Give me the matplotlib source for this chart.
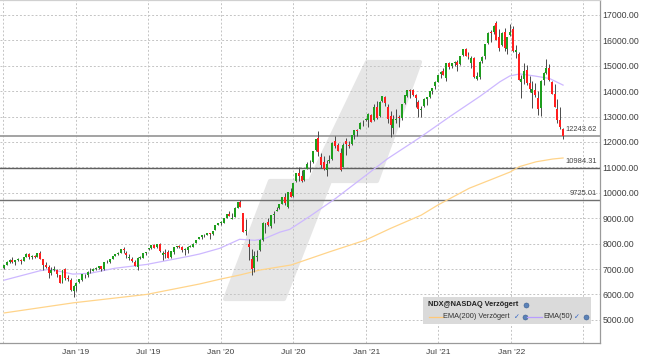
import matplotlib
matplotlib.use("Agg")
import matplotlib.pyplot as plt
import matplotlib.dates as mdates
import pandas as pd
from matplotlib.patches import Polygon, Rectangle
from matplotlib.lines import Line2D

plt.rcParams['font.family'] = ['Liberation Sans', 'DejaVu Sans']

# weekly NDX candles, Jul 2018 - May 2022
open_ = [7040, 7150, 7280, 7340, 7270, 7360, 7370, 7310, 7470, 7600, 7460, 7510, 7480, 7640, 7390, 7150, 7080, 6850, 6980, 6980, 6780, 6470, 7000, 6640, 6580, 6150,
         6330, 6470, 6560, 6790, 6780, 6920, 6940, 7000, 7050, 7110, 6990, 7260, 7280, 7400, 7530, 7590, 7630, 7790, 7640, 7450, 7400, 7290, 7080, 7440, 7450, 7620,
         7780, 7810, 7950, 7870, 8000, 7550, 7620, 7650, 7490, 7670, 7860, 7890, 7860, 7760, 7730, 7880, 7880, 8020, 8180, 8250, 8330, 8340, 8400, 8390, 8530, 8740,
         8800, 8810, 9020, 9160, 8970, 9060, 9410, 9640, 9200, 8480, 8000, 7400, 7050, 7480, 7740, 8130, 8780, 8860, 8680, 9130, 9280, 9400, 9570, 9850, 9430, 10040,
         9880, 10480, 10790, 10650, 10510, 10930, 11170, 11220, 11680, 12160, 11400, 11200, 10880, 11260, 11330, 12040, 11880, 11570, 11030, 12050, 11900, 11910, 12270, 12460, 12520, 12790,
         12850, 12880, 13080, 12850, 13390, 13020, 13610, 13790, 13380, 13030, 12550, 12870, 12970, 12950, 13520, 13830, 14030, 14030, 13860, 13560, 13260, 13400, 13710, 13780, 14000, 14200,
         14380, 14670, 14800, 14500, 15110, 14990, 15120, 15160, 15060, 15410, 15670, 15420, 15120, 15310, 14470, 14550, 15170, 15400, 15880, 16330, 16320, 16680, 16120, 15800, 16330, 15660, 16200,
         16440, 15540, 15480, 14370, 14490, 14830, 14310, 13920, 14060, 13750, 13350, 14440, 14700, 14900, 14380, 13900, 13300, 12860, 12520]
high = [7160, 7300, 7380, 7460, 7370, 7450, 7390, 7470, 7640, 7630, 7560, 7560, 7640, 7700, 7400, 7290, 7160, 7080, 7120, 7000, 6780, 6980, 7050, 6750, 6650, 6360,
        6470, 6620, 6820, 6820, 6940, 7020, 7020, 7060, 7110, 7130, 7270, 7370, 7390, 7530, 7600, 7650, 7800, 7850, 7700, 7610, 7480, 7350, 7460, 7520, 7640, 7680,
        7840, 7960, 7990, 8000, 8030, 7700, 7770, 7730, 7720, 7860, 7910, 7930, 7890, 7820, 7900, 7960, 8020, 8160, 8260, 8340, 8360, 8420, 8410, 8510, 8740, 8820,
        8880, 9010, 9180, 9270, 9190, 9430, 9630, 9720, 9220, 8950, 8200, 7800, 7700, 7730, 8200, 8860, 8830, 9000, 9130, 9270, 9460, 9560, 9850, 10000, 10050, 10190,
        10400, 10780, 11000, 10880, 10900, 11200, 11300, 11660, 12120, 12440, 11580, 11450, 11290, 11480, 11990, 12230, 11960, 11750, 11960, 12160, 12050, 12270, 12480, 12500, 12780, 12880,
        12960, 13130, 13120, 13480, 13620, 13600, 13830, 13800, 13500, 13230, 13050, 13300, 13060, 13490, 13850, 14060, 14080, 14100, 13900, 13640, 13400, 13740, 13790, 14000, 14140, 14390,
        14640, 14810, 14900, 15100, 15140, 15100, 15200, 15240, 15380, 15670, 15700, 15560, 15390, 15350, 14750, 15170, 15400, 15860, 16340, 16400, 16600, 16760, 16450, 16320, 16500, 16150, 16660,
        16580, 15810, 15560, 14650, 15120, 15020, 14600, 14400, 14310, 14000, 14450, 14770, 15270, 15060, 14400, 14290, 13700, 13370, 12570]
low = [6990, 7140, 7240, 7240, 7160, 7330, 7190, 7300, 7460, 7410, 7380, 7420, 7470, 7380, 6950, 7030, 6660, 6780, 6910, 6700, 6440, 6460, 6550, 6520, 6150, 5900,
       6150, 6440, 6530, 6640, 6690, 6860, 6920, 6960, 7000, 6930, 6980, 7240, 7230, 7390, 7500, 7550, 7620, 7640, 7440, 7370, 7270, 7120, 6980, 7400, 7440, 7550,
       7740, 7780, 7830, 7840, 7650, 7340, 7440, 7420, 7450, 7600, 7830, 7840, 7650, 7550, 7640, 7850, 7860, 8010, 8170, 8200, 8250, 8330, 8190, 8350, 8520, 8730,
       8720, 8800, 9010, 9080, 8950, 9040, 9400, 9440, 8450, 8330, 7350, 6770, 6880, 7320, 7710, 8100, 8430, 8680, 8630, 8830, 9270, 9360, 9560, 9520, 9420, 9840,
       9840, 10420, 10450, 10430, 10460, 10920, 10800, 11170, 11660, 11450, 10990, 10900, 10680, 11170, 11300, 11750, 11630, 10860, 11000, 11500, 11760, 11890, 12120, 12220, 12500, 12640,
       12840, 12600, 12780, 12830, 12900, 12990, 13560, 13420, 12760, 12210, 12300, 12760, 12600, 12850, 13490, 13770, 13740, 13820, 13370, 12980, 13000, 13380, 13450, 13730, 13900, 14100,
       14370, 14500, 14620, 14400, 14860, 14930, 15000, 14780, 15040, 15390, 15390, 15260, 14910, 14500, 14450, 14470, 15100, 15260, 15860, 15950, 16250, 16020, 15590, 15760, 15600, 15480, 16160,
       15560, 15300, 14430, 13720, 14300, 14250, 13980, 13320, 13780, 13050, 13020, 14260, 14680, 14400, 13890, 13360, 12730, 12530, 12120]
close = [7140, 7280, 7340, 7290, 7350, 7380, 7300, 7460, 7600, 7460, 7510, 7480, 7620, 7400, 7150, 7080, 6830, 6970, 6990, 6800, 6450, 6950, 6630, 6590, 6160, 6330,
         6460, 6600, 6800, 6790, 6900, 6930, 7000, 7040, 7100, 6990, 7260, 7280, 7380, 7520, 7590, 7620, 7790, 7740, 7570, 7490, 7300, 7130, 7420, 7440, 7620, 7670,
         7830, 7950, 7830, 7990, 7700, 7640, 7600, 7450, 7710, 7850, 7900, 7860, 7740, 7780, 7870, 7890, 8000, 8160, 8260, 8340, 8320, 8400, 8390, 8500, 8730, 8810,
         8870, 9000, 9170, 9100, 8990, 9400, 9620, 9450, 8460, 8530, 7880, 6990, 7500, 7490, 8150, 8830, 8780, 8720, 9120, 9150, 9320, 9560, 9820, 9590, 10030, 9850,
         10380, 10760, 10650, 10460, 10900, 11130, 11180, 11630, 12110, 11620, 11090, 10940, 11120, 11300, 11980, 11850, 11660, 10910, 11900, 11940, 11850, 12260, 12460, 12440, 12760, 12800,
         12890, 13110, 12800, 13370, 12930, 13590, 13800, 13520, 12910, 12670, 12900, 12900, 12960, 13480, 13850, 14040, 13990, 13860, 13720, 13300, 13300, 13690, 13770, 13990, 14140, 14360,
         14640, 14770, 14630, 15100, 14960, 15100, 15160, 15020, 15380, 15650, 15390, 15330, 15310, 14570, 14580, 15150, 15340, 15850, 16300, 16300, 16570, 16030, 15710, 16300, 15720, 16120, 16320,
         15600, 15610, 14440, 14470, 14800, 14320, 14100, 14100, 13840, 13300, 14420, 14700, 14900, 14450, 13900, 13380, 12850, 12580, 12244]

ema200_dates = ['2018-07-04', '2018-12-26', '2019-06-28', '2019-11-08', '2019-12-30', '2020-02-19', '2020-04-08',
                '2020-06-26', '2020-10-01', '2020-12-30', '2021-03-03', '2021-05-19', '2021-06-30', '2021-09-17',
                '2021-11-19', '2021-12-29', '2022-01-21', '2022-03-04', '2022-04-15', '2022-05-11']
ema200 = [5270, 5670, 6000, 6410, 6600, 6770, 6960, 7160, 7680, 8140, 8600, 9120, 9520, 10180,
          10570, 10820, 11030, 11220, 11330, 11370]

ema50_dates = ['2018-07-04', '2018-10-02', '2018-10-27', '2018-12-24', '2019-02-05', '2019-04-09', '2019-06-28',
               '2019-10-15', '2019-11-08', '2019-12-29', '2020-02-17', '2020-03-26', '2020-04-20', '2020-05-28',
               '2020-06-22', '2020-08-12', '2020-10-14', '2020-12-15', '2021-02-24', '2021-05-16', '2021-07-30',
               '2021-10-14', '2021-12-03', '2021-12-28', '2022-01-22', '2022-02-28', '2022-04-07', '2022-05-11']
ema50 = [6560, 6930, 6990, 6800, 6830, 7030, 7180, 7510, 7590, 7815, 8170, 8130, 8200, 8450,
         8560, 9080, 9760, 10500, 11350, 12180, 13000, 13800, 14370, 14600, 14680, 14600, 14500, 14240]

levels = [12243.62, 10984.31, 9725.01]
level_labels = ['12243.62', '10984.31', '9725.01']

tick_dates = ['2018-07-01', '2019-01-01', '2019-07-01', '2020-01-01', '2020-07-01',
              '2021-01-01', '2021-07-01', '2022-01-01', '2022-07-01']
tick_labels = ['', "Jan '19", "Jul '19", "Jan '20", "Jul '20", "Jan '21", "Jul '21", "Jan '22", '']
y_ticks = list(range(5000, 17001, 1000))

weeks = pd.date_range('2018-07-04', periods=len(close), freq='7D')
xw = mdates.date2num(weeks)

fig = plt.figure(figsize=(6.45, 3.63), dpi=100)
fig.patch.set_facecolor('white')
ax = fig.add_axes([0, 20 / 363, 600 / 645, 343 / 363])

base = mdates.date2num(pd.Timestamp('2019-01-01'))
ppd = 145 / 365
ax.set_xlim(base - 76 / ppd, base + 524 / ppd)
ax.set_ylim(4087, 17590)

# watermark logo
logo_px = [(367, 62), (420, 62), (377, 181), (330, 181), (284, 299), (225, 299), (270, 181), (310, 181)]
logo = Polygon([(px / 600, 1 - py / 343) for px, py in logo_px], closed=True, transform=ax.transAxes,
               facecolor='#e6e6e6', edgecolor='#e6e6e6', lw=3, joinstyle='round', zorder=0.2)
ax.add_patch(logo)

ax.set_axisbelow(True)
ax.grid(True, color='#c4c4c4', linestyle=(0, (2, 2)), linewidth=0.7)

ax.set_xticks(mdates.date2num(pd.to_datetime(tick_dates)))
ax.set_xticklabels(tick_labels)
ax.set_yticks(y_ticks)
ax.set_yticklabels([f'{v:.2f}' for v in y_ticks])
ax.yaxis.tick_right()
ax.tick_params(axis='y', length=0, pad=2, labelsize=6.3, labelcolor='#404040')
ax.tick_params(axis='x', length=0, pad=4, labelsize=6.1, labelcolor='#404040')

for s in ['left']:
    ax.spines[s].set_visible(False)
ax.spines['top'].set_color('#d0d0d0')
ax.spines['right'].set_color('#9a9a9a')
ax.spines['bottom'].set_color('#9a9a9a')
for s in ['top', 'right', 'bottom']:
    ax.spines[s].set_linewidth(0.9)

# support levels
level_colors = ['#9c9c9c', '#606060', '#707070']
level_widths = [1.3, 1.0, 1.0]
for lv, lab, c, w in zip(levels, level_labels, level_colors, level_widths):
    ax.axhline(lv, color=c, lw=w, zorder=2)
    ax.annotate(lab, xy=(0.995, lv), xycoords=('axes fraction', 'data'), xytext=(0, 2),
                textcoords='offset points', ha='right', va='bottom', fontsize=5.4, color='#444444')

# moving averages
ax.plot(mdates.date2num(pd.to_datetime(ema200_dates)), ema200, color='#ffd48a', lw=0.9, zorder=2.5)
ax.plot(mdates.date2num(pd.to_datetime(ema50_dates)), ema50, color='#cdb8ff', lw=0.9, zorder=2.5)

# candles
ax.vlines(xw, low, high, color='#4a4a4a', lw=0.7, zorder=3)
bottoms = [min(o, c) for o, c in zip(open_, close)]
heights = [max(abs(c - o), 15) for o, c in zip(open_, close)]
colors = ['#1e9e1e' if c >= o else '#ff1f1f' for o, c in zip(open_, close)]
ax.bar(xw, heights, bottom=bottoms, width=5, color=colors, linewidth=0, zorder=3.5)


# legend box
def fp(px, py):
    return px / 645, 1 - py / 363


fig.patches.append(Rectangle(fp(423, 324), 168 / 645, 27 / 363, transform=fig.transFigure,
                             facecolor='#dadada', edgecolor='none', zorder=5))
fig.text(*fp(428, 305), 'NDX@NASDAQ Verzögert', fontsize=5.3, fontweight='bold',
         ha='left', va='center', color='#222222', zorder=6)


def globe(px, py):
    fig.add_artist(Line2D([px / 645], [1 - py / 363], marker='o', markersize=3.6, markerfacecolor='#5b82b8',
                          markeredgecolor='#3d5f90', markeredgewidth=0.4, transform=fig.transFigure, zorder=6))


def check(px, py):
    fig.text(*fp(px, py), '✓', fontsize=5, ha='center', va='center', color='#2f62c4',
             family='DejaVu Sans', zorder=6)


globe(526, 305)
fig.add_artist(Line2D([429 / 645, 443 / 645], [1 - 316.5 / 363] * 2, color='#ffc878', lw=0.9,
                      transform=fig.transFigure, zorder=6))
fig.text(*fp(443.5, 316.5), 'EMA(200) Verzögert', fontsize=5.3, ha='left', va='center', color='#333333', zorder=6)
check(517, 316.5)
globe(525, 316.5)
fig.add_artist(Line2D([527 / 645, 542 / 645], [1 - 316.5 / 363] * 2, color='#b89cff', lw=0.9,
                      transform=fig.transFigure, zorder=6))
fig.text(*fp(543, 316.5), 'EMA(50)', fontsize=5.3, ha='left', va='center', color='#333333', zorder=6)
check(577, 316.5)
globe(586, 316.5)

fig.savefig('out.png', dpi=100)
